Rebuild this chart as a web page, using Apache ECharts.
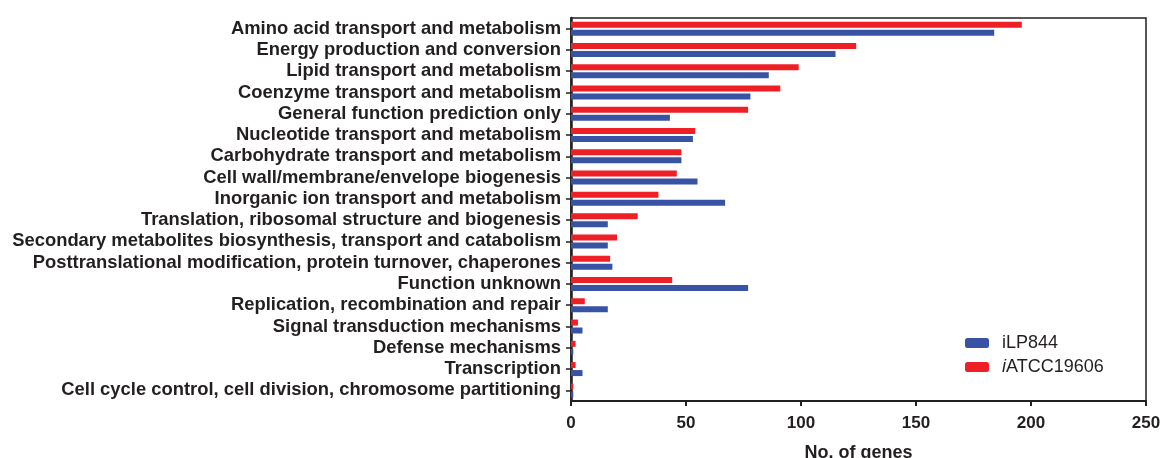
<!DOCTYPE html>
<html><head><meta charset="utf-8">
<script src="https://cdn.jsdelivr.net/npm/echarts@6/dist/echarts.min.js"></script>
<style>html,body{margin:0;padding:0;background:#fff}#c{width:1164px;height:458px}</style>
</head><body><div id="c"></div>
<script>
const categories = [
  "Amino acid transport and metabolism",
  "Energy production and conversion",
  "Lipid transport and metabolism",
  "Coenzyme transport and metabolism",
  "General function prediction only",
  "Nucleotide transport and metabolism",
  "Carbohydrate transport and metabolism",
  "Cell wall/membrane/envelope biogenesis",
  "Inorganic ion transport and metabolism",
  "Translation, ribosomal structure and biogenesis",
  "Secondary metabolites biosynthesis, transport and catabolism",
  "Posttranslational modification, protein turnover, chaperones",
  "Function unknown",
  "Replication, recombination and repair",
  "Signal transduction mechanisms",
  "Defense mechanisms",
  "Transcription",
  "Cell cycle control, cell division, chromosome partitioning"
];
const iATCC19606 = [196, 124, 99, 91, 77, 54, 48, 46, 38, 29, 20, 17, 44, 6, 3, 2, 2, 1];
const iLP844 = [184, 115, 86, 78, 43, 53, 48, 55, 67, 16, 16, 18, 77, 16, 5, 1, 5, 1];
const xTicks = [0, 50, 100, 150, 200, 250];

const txt = '#231F20';
const font = 'Liberation Sans, Arial, sans-serif';
const chart = echarts.init(document.getElementById('c'));
chart.setOption({
  animation: false,
  textStyle: {fontFamily: font},
  grid: {left: 571, right: 18, top: 18, bottom: 57, show: true, borderColor: txt, borderWidth: 1.5,
         containLabel: false, outerBoundsMode: 'none'},
  legend: {
    data: ['iLP844', 'iATCC19606'],
    orient: 'vertical', left: 960, top: 329,
    itemWidth: 24, itemHeight: 10, itemGap: 6,
    formatter: function (n) { return n === 'iATCC19606' ? '{p|}{i|i}{n|ATCC19606}' : '{p|}{n|iLP844}'; },
    textStyle: {rich: {
      p: {width: 8},
      i: {fontStyle: 'italic', fontSize: 18, color: txt, fontFamily: font},
      n: {fontSize: 18, color: txt, fontFamily: font}
    }}
  },
  xAxis: {
    type: 'value', min: 0, max: 250, interval: 50,
    name: 'No. of genes', nameLocation: 'middle', nameGap: 43,
    nameTextStyle: {fontWeight: 'bold', fontSize: 18, color: txt},
    axisLine: {show: true, lineStyle: {color: txt, width: 2}},
    axisTick: {show: true, length: 5, lineStyle: {color: txt, width: 2}},
    axisLabel: {fontWeight: 'bold', fontSize: 17, color: txt, margin: 14,
      formatter: function (v) { return xTicks.indexOf(v) >= 0 ? String(v) : ''; }},
    splitLine: {show: false}
  },
  yAxis: {
    type: 'category', data: categories, inverse: true,
    axisLine: {show: true, lineStyle: {color: txt, width: 2.5}},
    axisTick: {show: true, alignWithLabel: true, length: 5, lineStyle: {color: txt, width: 1.5}},
    axisLabel: {fontWeight: 'bold', fontSize: 18.4, color: txt, margin: 10, interval: 0}
  },
  series: [
    {name: 'iATCC19606', type: 'bar', data: iATCC19606, barWidth: 6, barGap: '33%',
     itemStyle: {color: '#EE1F25'}},
    {name: 'iLP844', type: 'bar', data: iLP844, barWidth: 6, barGap: '33%',
     itemStyle: {color: '#3953A4'}}
  ]
});
</script></body></html>
